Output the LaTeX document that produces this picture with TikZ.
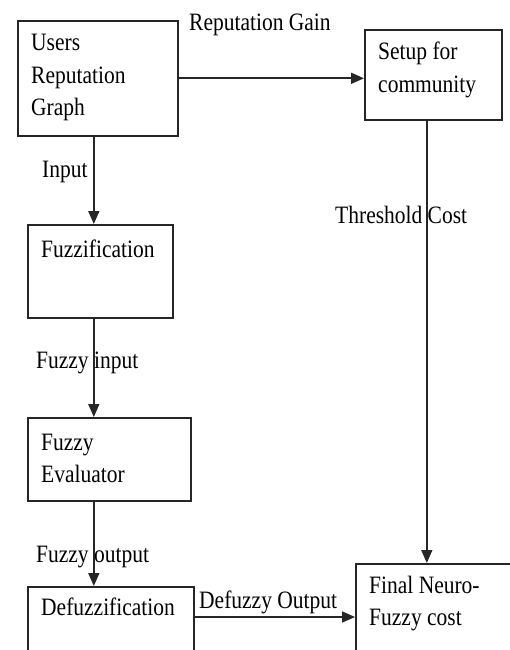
\documentclass[tikz,border=0pt]{standalone}
\usepackage{fontspec}
\setmainfont[FakeStretch=0.86]{Liberation Serif}
\usetikzlibrary{arrows.meta}
\begin{document}
\begin{tikzpicture}[x=1pt,y=-1pt,
  box/.style={draw=black!85, line width=1.6pt, rectangle, anchor=north west, inner sep=0pt},
  txt/.style={anchor=base west, inner sep=0pt, align=left,
    font=\fontsize{25}{32.5}\selectfont},
  arr/.style={draw=black!85, line width=1.6pt, -{Triangle[length=13pt,width=11pt]}}]
\useasboundingbox (0,0) rectangle (510,650);
\clip (0,0) rectangle (510,650);

% boxes
\node[box, minimum width=160pt, minimum height=115pt] (users) at (17,20) {};
\node[box, minimum width=137pt, minimum height=90pt] (setup) at (364,29) {};
\node[box, minimum width=145pt, minimum height=93pt] (fuzz) at (27,224) {};
\node[box, minimum width=163pt, minimum height=83pt] (eval) at (27,417) {};
\node[box, minimum width=166pt, minimum height=100pt] (defuzz) at (27,586) {};
\node[box, minimum width=180pt, minimum height=110pt] (final) at (355,563) {};

% box texts (anchored at the baseline of the last line)
\node[txt] (tusers) at (31,116) {Users\\Reputation\\Graph};
\node[txt] (tsetup) at (378,92.5) {Setup for\\community};
\node[txt] (tfuzz) at (41,257) {Fuzzification};
\node[txt] (teval) at (41,482.5) {Fuzzy\\Evaluator};
\node[txt] (tdefuzz) at (41,615) {Defuzzification};
\node[txt] (tfinal) at (369,625.5) {Final Neuro-\\Fuzzy cost};

% connectors
\draw[arr] (users.east) -- (users.east -| setup.west);
\draw[arr] ([xshift=-4pt]users.south) -- ([xshift=-4pt]users.south |- fuzz.north);
\draw[arr] ([xshift=-6.5pt]fuzz.south) -- ([xshift=-6.5pt]fuzz.south |- eval.north);
\draw[arr] ([xshift=-15.5pt]eval.south) -- ([xshift=-15.5pt]eval.south |- defuzz.north);
\draw[arr] ([xshift=-6.5pt]setup.south) -- ([xshift=-6.5pt]setup.south |- final.north);
\draw[arr] ([yshift=-31pt]defuzz.north east) -- ([yshift=-31pt]defuzz.north east -| final.west);

% connector labels
\node[txt] (lgain) at (189,31) {Reputation Gain};
\node[txt] (linput) at (42,177) {Input};
\node[txt] (lfin) at (36,368) {Fuzzy input};
\node[txt] (lfout) at (36,562) {Fuzzy output};
\node[txt] (lthr) at (335,223) {Threshold Cost};
\node[txt] (ldef) at (199,608) {Defuzzy Output};
\end{tikzpicture}
\end{document}
